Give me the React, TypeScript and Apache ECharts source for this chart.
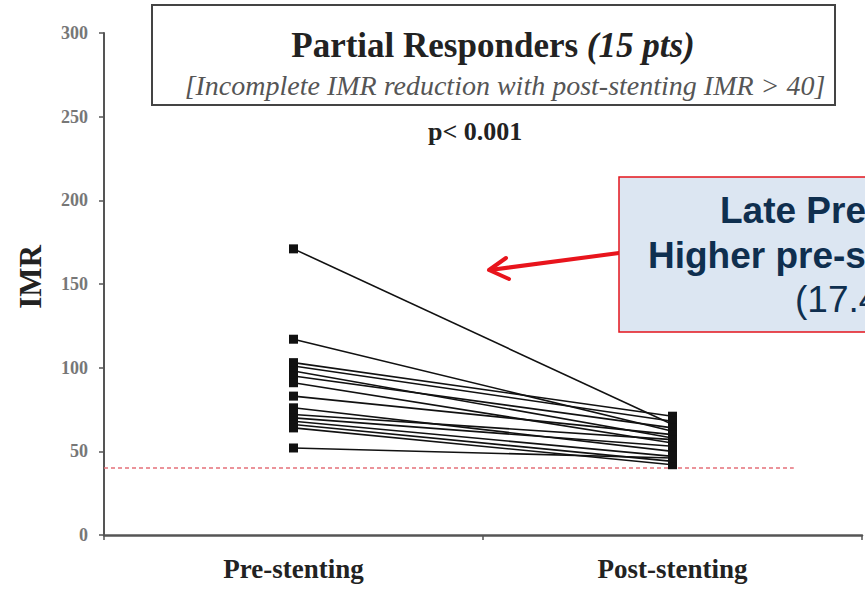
import React, { useEffect, useRef } from "react";
import * as echarts from "echarts";

// Paired IMR values per patient (same order in both arrays)
const categories = ["Pre-stenting", "Post-stenting"];
const preStenting = [171, 117, 103, 101, 98, 95, 91, 83, 76, 72, 70, 68, 66, 64, 52];
const postStenting = [66, 62, 71, 68, 58, 64, 55, 60, 50, 57, 53, 47, 44, 42, 46];
const yTicks = { min: 0, max: 300, interval: 50 };
const thresholdIMR = 40;
const thresholdSpan = [0, 91];

const SERIF = "'Liberation Serif', 'Times New Roman', serif";
const SANS = "'Liberation Sans', Arial, sans-serif";

export default function App() {
  const ref = useRef<HTMLDivElement>(null);

  useEffect(() => {
    if (!ref.current) return;
    const chart = echarts.init(ref.current, null, { renderer: "svg" });

    const pairSeries = preStenting.map((pre, i) => ({
      type: "line",
      name: "pt" + (i + 1),
      xAxisIndex: 0,
      yAxisIndex: 0,
      data: [pre, postStenting[i]],
      symbol: "rect",
      symbolSize: 9,
      lineStyle: { color: "#111", width: 1.6 },
      itemStyle: { color: "#111" },
      z: 3,
    }));

    const calloutText = (text: string, x: number, y: number, bold: boolean) => ({
      type: "text",
      x,
      y,
      style: {
        text,
        fontFamily: SANS,
        fontWeight: bold ? "bold" : "normal",
        fontSize: 37,
        fill: "#0f2f4f",
        textAlign: "left",
        textVerticalAlign: "middle",
      },
      z: 13,
    });

    chart.setOption({
      animation: false,
      backgroundColor: "#fff",
      grid: { left: 104, right: 3, top: 33, bottom: 57 },
      xAxis: [
        {
          type: "category",
          data: categories,
          boundaryGap: true,
          axisLine: { lineStyle: { color: "#555", width: 2.5 } },
          axisTick: { show: true, length: 5, lineStyle: { color: "#555", width: 1.5 } },
          axisLabel: {
            margin: 20,
            fontFamily: SERIF,
            fontWeight: "bold",
            fontSize: 27,
            color: "#222",
          },
          splitLine: { show: false },
        },
        {
          type: "value",
          min: 0,
          max: 100,
          show: false,
        },
      ],
      yAxis: {
        type: "value",
        min: yTicks.min,
        max: yTicks.max,
        interval: yTicks.interval,
        axisLine: { show: true, lineStyle: { color: "#555", width: 2 } },
        axisTick: { show: true, length: 5, lineStyle: { color: "#555", width: 1.5 } },
        axisLabel: {
          margin: 16,
          fontFamily: SERIF,
          fontWeight: "bold",
          fontSize: 18,
          color: "#777",
        },
        splitLine: { show: false },
      },
      series: [
        {
          type: "line",
          name: "threshold",
          xAxisIndex: 1,
          yAxisIndex: 0,
          data: thresholdSpan.map((x) => [x, thresholdIMR]),
          symbol: "none",
          lineStyle: { color: "#e5707a", width: 1.5, type: [4, 3] },
          z: 2,
        },
        ...pairSeries,
      ],
      graphic: [
        // Title box
        {
          type: "rect",
          shape: { x: 152, y: 5, width: 683, height: 100 },
          style: { fill: "#fff", stroke: "#444", lineWidth: 2 },
          z: 10,
        },
        {
          type: "text",
          x: 493,
          y: 45,
          style: {
            text: "{b|Partial Responders }{bi|(15 pts)}",
            textAlign: "center",
            textVerticalAlign: "middle",
            rich: {
              b: { fontFamily: SERIF, fontWeight: "bold", fontSize: 35, fill: "#222" },
              bi: {
                fontFamily: SERIF,
                fontWeight: "bold",
                fontStyle: "italic",
                fontSize: 35,
                fill: "#222",
              },
            },
          },
          z: 11,
        },
        {
          type: "text",
          x: 505,
          y: 85,
          style: {
            text: "[Incomplete IMR reduction with post-stenting IMR > 40]",
            fontFamily: SERIF,
            fontStyle: "italic",
            fontSize: 28,
            fill: "#555",
            textAlign: "center",
            textVerticalAlign: "middle",
          },
          z: 11,
        },
        {
          type: "text",
          x: 428,
          y: 131,
          style: {
            text: "p< 0.001",
            fontFamily: SERIF,
            fontWeight: "bold",
            fontSize: 26,
            fill: "#222",
            textAlign: "left",
            textVerticalAlign: "middle",
          },
          z: 11,
        },
        // Y axis name
        {
          type: "text",
          x: 30,
          y: 277,
          rotation: Math.PI / 2,
          style: {
            text: "IMR",
            fontFamily: SERIF,
            fontWeight: "bold",
            fontSize: 31,
            fill: "#222",
            textAlign: "center",
            textVerticalAlign: "middle",
          },
          z: 11,
        },
        // Callout arrow
        {
          type: "line",
          shape: { x1: 619, y1: 253, x2: 490, y2: 270 },
          style: { stroke: "#e8141c", lineWidth: 4, lineCap: "round" },
          z: 12,
        },
        {
          type: "polyline",
          shape: { points: [[509, 279], [489, 270], [506, 258]] },
          style: { stroke: "#e8141c", lineWidth: 4, fill: null, lineCap: "round", lineJoin: "round" },
          z: 12,
        },
        // Callout box
        {
          type: "rect",
          shape: { x: 619, y: 177, width: 260, height: 155 },
          style: { fill: "#dce6f2", stroke: "#e3151c", lineWidth: 1.5 },
          z: 12,
        },
        calloutText("Late Pre", 720, 210, true),
        calloutText("Higher pre-s", 648, 255, true),
        calloutText("(17.4", 795, 299, false),
      ],
    });

    return () => chart.dispose();
  }, []);

  return <div ref={ref} style={{ width: 865, height: 592, position: "absolute", left: 0, top: 0 }} />;
}
